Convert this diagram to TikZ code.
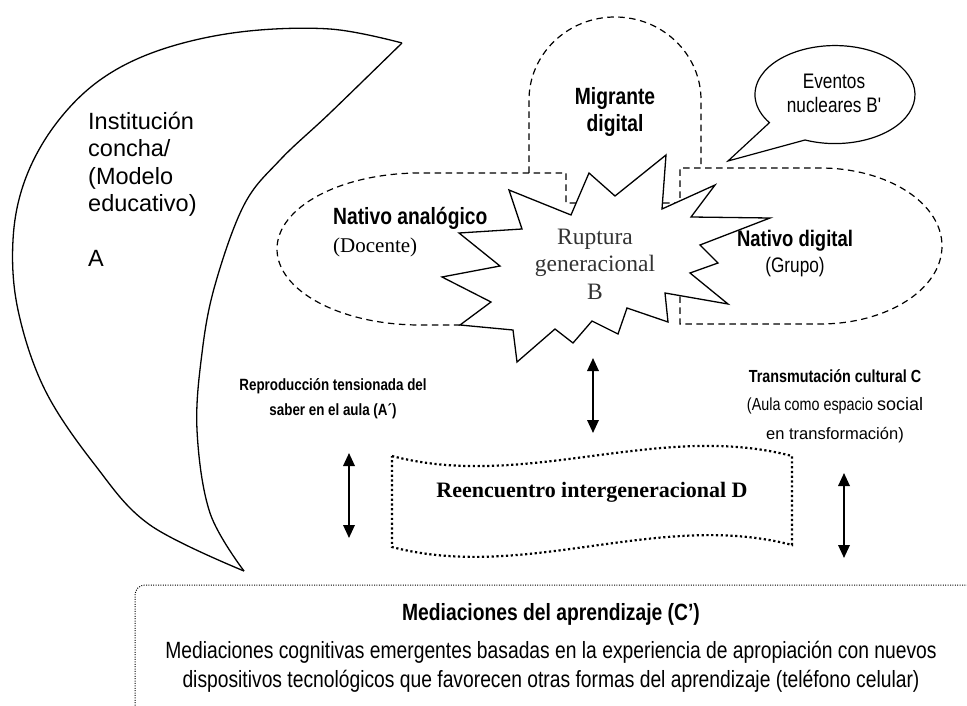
\documentclass[tikz,border=0pt]{standalone}
\usepackage{fontspec}
\setmainfont{Liberation Serif}
\newfontfamily\arialfont{Liberation Sans}
\newfontfamily\narrowfont[FakeStretch=0.82]{Liberation Sans}
\usetikzlibrary{arrows.meta}

\tikzset{
  outline/.style={line width=1.3pt, line join=miter},
  dashline/.style={line width=1.2pt, dash pattern=on 6.5pt off 4.5pt},
  twoway/.style={line width=1.8pt,
    {Triangle[length=13pt,width=11.5pt]}-{Triangle[length=13pt,width=11.5pt]}},
  lbl/.style={inner sep=0pt, align=center},
  boldlbl/.style={lbl, font=\narrowfont\bfseries\fontsize{23.5}{27}\selectfont},
  plainlbl/.style={lbl, font=\narrowfont\fontsize{21}{24}\selectfont},
}

\begin{document}
\begin{tikzpicture}[x=1pt,y=-1pt]
\useasboundingbox (0,0) rectangle (967,706);

% shell-shaped institution (crescent)
\draw[outline] plot[smooth,tension=0.6] coordinates {(402,43) (330,29) (240,32) (160,50) (100,80) (55,125) (25,180) (13,240) (18,310) (45,390) (95,465) (150,525) (244,571)};
\draw[outline] plot[smooth,tension=0.6] coordinates {(402,43) (330,113) (280,160) (244,205) (215,285) (202,353) (197,430) (210,513) (244,571)};
\node[lbl, anchor=north west, align=left, font=\arialfont\fontsize{23.5}{27.5}\selectfont] (inst) at (88,111.5)
  {Institución\\concha/\\(Modelo\\educativo)\\[27.5pt]A};

% dashed generation regions
\draw[dashline] (576,203) -- (566,203) -- (566,173) -- (420,173)
  arc[start angle=-90, end angle=-270, x radius=143, y radius=76] -- (462,325);
\draw[dashline] (529,173) -- (529,100)
  arc[start angle=180, end angle=360, x radius=86, y radius=83] -- (701,168);
\draw[dashline] (663,203) -- (680,203) -- (680,168) -- (820,168)
  arc[start angle=-90, end angle=90, x radius=122, y radius=78] -- (680,324) -- (680,285);

% speech bubble
\draw[outline, line width=1.2pt] (728,161) -- (805,140)
  arc[start angle=112, end angle=-215, x radius=80, y radius=49] -- cycle;
\node[plainlbl] (eventos) at (834,93) {Eventos\\nucleares B'};

% generational rupture (starburst)
\draw[outline, fill=white] (509,190) -- (571,215) -- (589,173) -- (615,196) -- (666,155)
  -- (662,209) -- (715,185) -- (691,217) -- (770,218) -- (700,245) -- (718,263)
  -- (690,273) -- (728,304) -- (665,293) -- (668,322) -- (627,308) -- (618,334)
  -- (592,321) -- (573,343) -- (555,329) -- (517,362) -- (513,330) -- (460,325)
  -- (491,302) -- (442,277) -- (500,266) -- (459,233) -- (522,229) -- cycle;
\node[lbl, font=\fontsize{23.5}{27.5}\selectfont, text=black!80] (ruptura) at (595,264) {Ruptura\\generacional\\B};

\node[boldlbl, anchor=base west] (nanalog) at (333,225) {Nativo analógico};
\node[lbl, anchor=base west, font=\fontsize{21}{24}\selectfont] (docente) at (333,252) {(Docente)};
\node[boldlbl] (migrante) at (615,112) {Migrante\\digital};
\node[boldlbl, anchor=base, font=\narrowfont\bfseries\fontsize{22.5}{26}\selectfont] (ndigital) at (795,246) {Nativo digital};
\node[plainlbl, anchor=base] (grupo) at (795,272) {(Grupo)};

% lower labels
\node[lbl, font=\narrowfont\bfseries\fontsize{16.3}{25}\selectfont] (reprod) at (333,399) {Reproducción tensionada del\\saber en el aula (A´)};
\node[lbl, font=\narrowfont\fontsize{17.5}{28.5}\selectfont] (transm) at (835,406)
  {{\bfseries Transmutación cultural C}\\(Aula como espacio {\arialfont\fontsize{18}{28.5}\selectfont social}\\{\arialfont\fontsize{16.5}{28.5}\selectfont en transformación)}};

% intergenerational meeting (tape shape)
\draw[line width=2.2pt, dash pattern=on 2.2pt off 2.6pt]
  (392,456) .. controls (525,491) and (659,421) .. (792,456)
  -- (792,545) .. controls (659,510) and (525,582) .. (392,547) -- cycle;
\node[lbl, font=\bfseries\fontsize{22}{25}\selectfont] (reenc) at (592,492) {Reencuentro intergeneracional D};

% two-way arrows
\coordinate (la1) at (349,453); \coordinate (la2) at (349,538);
\coordinate (ca1) at (593,358); \coordinate (ca2) at (593,433);
\coordinate (ra1) at (844,473); \coordinate (ra2) at (844,558);
\draw[twoway] (la1) -- (la2);
\draw[twoway] (ca1) -- (ca2);
\draw[twoway] (ra1) -- (ra2);

% learning mediations box
\draw[line width=1pt, dash pattern=on 1pt off 1.4pt, rounded corners=10pt]
  (975,585) -- (135,585) -- (135,715);
\node[lbl, font=\narrowfont\fontsize{23.5}{29}\selectfont] (mediac) at (551,648)
  {\bfseries Mediaciones del aprendizaje (C’)\\[9pt]Mediaciones cognitivas emergentes basadas en la experiencia de apropiación con nuevos\\dispositivos tecnológicos que favorecen otras formas del aprendizaje (teléfono celular)};
\end{tikzpicture}
\end{document}
